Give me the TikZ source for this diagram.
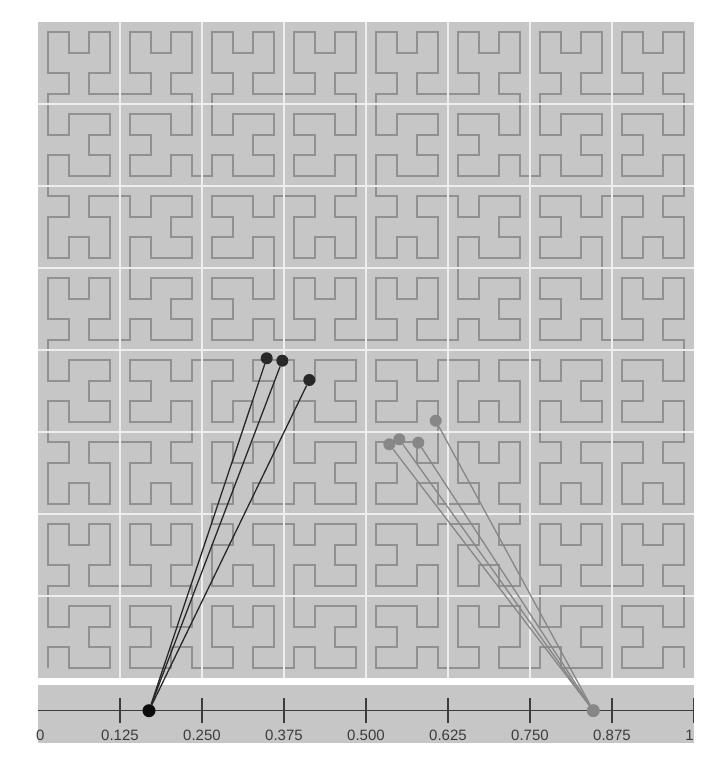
\documentclass[tikz,border=0pt]{standalone}
\usepackage{fontspec}
\setmainfont{Liberation Sans}
\definecolor{panel}{RGB}{198,198,198}
\definecolor{curvec}{RGB}{145,145,145}
\definecolor{gridw}{RGB}{238,238,238}
\definecolor{darkc}{RGB}{40,40,40}
\definecolor{grayc}{RGB}{135,135,135}
\definecolor{axisc}{RGB}{60,60,60}
\definecolor{labelc}{RGB}{60,60,60}
% turtle-built Hilbert curve (L -> +RF-LFL-FR+, R -> -LF+RFR+FL-)
\newcount\hdir
\def\hpath{}
\def\hstep{20.5}
\def\hF{\ifcase\hdir
  \xdef\hpath{\hpath -- ++(\hstep,0)}\or
  \xdef\hpath{\hpath -- ++(0,\hstep)}\or
  \xdef\hpath{\hpath -- ++(-\hstep,0)}\or
  \xdef\hpath{\hpath -- ++(0,-\hstep)}\fi}
\def\hP{\global\advance\hdir 1 \ifnum\hdir>3 \global\advance\hdir -4 \fi}
\def\hM{\global\advance\hdir -1 \ifnum\hdir<0 \global\advance\hdir 4 \fi}
\def\hL#1{\ifnum#1>0 \expandafter\hLbody\expandafter{\the\numexpr#1-1\relax}\fi}
\def\hR#1{\ifnum#1>0 \expandafter\hRbody\expandafter{\the\numexpr#1-1\relax}\fi}
\def\hLbody#1{\hP\hR{#1}\hF\hM\hL{#1}\hF\hL{#1}\hM\hF\hR{#1}\hP}
\def\hRbody#1{\hM\hL{#1}\hF\hP\hR{#1}\hF\hR{#1}\hP\hF\hL{#1}\hM}
\global\hdir=0
\hL{5}
\tikzset{
  panelbox/.style={fill=panel, draw=none},
  gridline/.style={draw=gridw, line width=2.2pt},
  hcurve/.style={draw=curvec, line width=1.8pt, line join=miter},
  bdot/.style={circle, fill=darkc, inner sep=0pt, minimum size=12pt},
  bdotaxis/.style={circle, fill=black!95, inner sep=0pt, minimum size=13pt},
  gdot/.style={circle, fill=grayc, inner sep=0pt, minimum size=12pt},
  gdotaxis/.style={circle, fill=grayc, inner sep=0pt, minimum size=13pt},
  blink/.style={draw=darkc, line width=1.3pt},
  glink/.style={draw=grayc, line width=1.3pt},
  axisline/.style={draw=axisc, line width=1.3pt},
  tickmark/.style={draw=axisc, line width=1.3pt},
  ticklabel/.style={font=\fontsize{15}{17}\selectfont, text=labelc, inner sep=0pt}
}
\begin{document}
\begin{tikzpicture}[x=1pt,y=1pt]
\useasboundingbox (0,0) rectangle (726,760);
% main square
\path[panelbox] (38,82) rectangle (694,738);
\coordinate (hstart) at (48.25,92.25);
\draw[hcurve] (hstart) \hpath;
\foreach \k in {1,...,7}{
  \draw[gridline] ({38+82*\k},82) -- ({38+82*\k},738);
  \draw[gridline] (38,{82+82*\k}) -- (694,{82+82*\k});
}
% bottom bar
\path[panelbox] (38,17) rectangle (694,75);
\coordinate (axL) at (38,49.3);
\coordinate (axR) at (694,49.3);
\draw[axisline] (axL) -- (axR);
\foreach \k/\lab in {1/0.125,2/0.250,3/0.375,4/0.500,5/0.625,6/0.750,7/0.875}{
  \draw[tickmark] ({38+82*\k},37) -- ({38+82*\k},62);
  \node[ticklabel] at ({38+82*\k},25) {\lab};
}
\draw[tickmark] (693.5,37) -- (693.5,62);
\node[ticklabel, anchor=west] (l0) at (36,25) {0};
\node[ticklabel, anchor=east] (l1) at (694,25) {1};
% dots
\node[bdotaxis] (ba) at (149,49.3) {};
\node[bdot] (b1) at (266.7,401.7) {};
\node[bdot] (b2) at (282.3,399.3) {};
\node[bdot] (b3) at (309.3,380) {};
\node[gdotaxis] (ga) at (593.3,49.3) {};
\node[gdot] (g1) at (435.7,339.3) {};
\node[gdot] (g2) at (399.3,320.7) {};
\node[gdot] (g3) at (389.3,315.7) {};
\node[gdot] (g4) at (418.3,317.3) {};
% links
\draw[blink] (ba) -- (b1);
\draw[blink] (ba) -- (b2);
\draw[blink] (ba) -- (b3);
\draw[glink] (ga) -- (g1);
\draw[glink] (ga) -- (g2);
\draw[glink] (ga) -- (g3);
\draw[glink] (ga) -- (g4);
\end{tikzpicture}
\end{document}
